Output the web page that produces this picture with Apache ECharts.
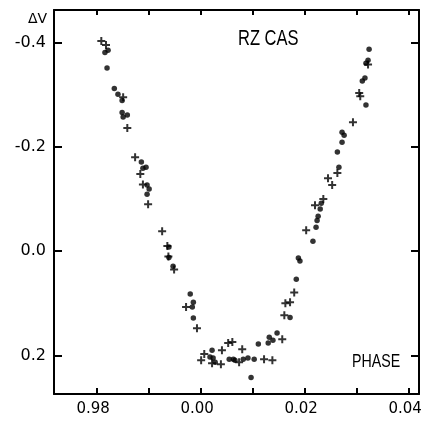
<!DOCTYPE html>
<html>
<head>
<meta charset="utf-8">
<script src="https://cdn.jsdelivr.net/npm/echarts@6/dist/echarts.min.js"></script>
<style>
html,body{margin:0;padding:0;background:#fff;}
#c{width:429px;height:426px;}
</style>
</head>
<body>
<div id="c"></div>
<script>
// Phase measured from primary minimum (negative = 0.98.. side), ΔV in mag
const dotPhase = [-0.0185,-0.0179,-0.0181,-0.0167,-0.0160,-0.0152,-0.0152,-0.0150,-0.0142,
  -0.0115,-0.0112,-0.0106,-0.0104,-0.0100,-0.0104,-0.0062,-0.0062,-0.0054,
  -0.0021,-0.0015,-0.0017,-0.0015,
  0.0021,0.0017,0.0023,0.0027,0.0054,0.0062,0.0065,0.0081,0.0090,0.0102,0.0096,0.0110,
  0.0131,0.0129,0.0138,0.0146,0.0171,0.0183,0.0187,0.0190,0.0215,0.0221,0.0223,0.0225,
  0.0229,0.0231,0.0262,0.0265,0.0271,0.0275,0.0271,0.0317,0.0310,0.0315,0.0317,0.0321,0.0323];
const dotDV = [-0.381,-0.385,-0.351,-0.312,-0.301,-0.289,-0.266,-0.257,-0.261,
  -0.171,-0.159,-0.161,-0.127,-0.119,-0.109,-0.008,0.012,0.029,
  0.082,0.098,0.107,0.128,
  0.190,0.203,0.205,0.213,0.207,0.207,0.209,0.207,0.205,0.207,0.242,0.178,
  0.165,0.176,0.171,0.157,0.127,0.054,0.013,0.019,-0.019,-0.046,-0.059,-0.067,
  -0.081,-0.092,-0.190,-0.161,-0.228,-0.222,-0.209,-0.280,-0.326,-0.332,-0.360,-0.366,-0.387];

const plusPhase = [-0.0192,-0.0183,-0.0150,-0.0142,-0.0127,-0.0117,-0.0112,-0.0102,
  -0.0075,-0.0065,-0.0063,-0.0052,-0.0029,-0.0008,
  0.0006,0.0000,0.0021,0.0038,0.0040,0.0052,0.0060,0.0073,0.0079,0.0121,0.0137,
  0.0156,0.0162,0.0171,0.0160,0.0179,0.0202,0.0219,0.0235,0.0244,0.0252,0.0262,
  0.0292,0.0304,0.0306,0.0321];
const plusDV = [-0.403,-0.395,-0.295,-0.236,-0.180,-0.148,-0.128,-0.090,
  -0.038,-0.010,0.010,0.035,0.107,0.148,
  0.197,0.209,0.215,0.217,0.190,0.176,0.174,0.213,0.188,0.207,0.209,
  0.169,0.100,0.098,0.123,0.079,-0.040,-0.088,-0.100,-0.140,-0.127,-0.150,
  -0.247,-0.303,-0.297,-0.358];

const xTicks = [-0.02,-0.01,0,0.01,0.02,0.03,0.04];
const xLabels = [-0.02,0,0.02,0.04];
const yTicks = [-0.4,-0.2,0,0.2];

const ink = '#000';
const plusPath = 'path://M3,0h2v3h3v2h-3v3h-2v-3h-3v-2h3z';

const chart = echarts.init(document.getElementById('c'), null, {renderer:'canvas'});
const axisBase = {
  type:'value', min:-0.0283, max:0.0419,
  axisLine:{show:true, onZero:false, lineStyle:{color:ink, width:2}},
  splitLine:{show:false}
};
chart.setOption({
  backgroundColor:'#fff',
  animation:false,
  grid:{left:54, top:10, right:10, bottom:32, containLabel:false},
  xAxis:[
    Object.assign({}, axisBase, {
      position:'bottom',
      axisTick:{show:true, inside:true, length:6, customValues:xTicks, lineStyle:{color:ink, width:2}},
      axisLabel:{show:true, customValues:xLabels, margin:8, color:ink,
        fontFamily:'DejaVu Sans', fontSize:15, padding:[0,8,0,0],
        formatter:v => (v < 0 ? 1 + v : v).toFixed(2)}
    }),
    Object.assign({}, axisBase, {
      position:'top',
      axisTick:{show:true, inside:true, length:5, customValues:xTicks, lineStyle:{color:ink, width:2}},
      axisLabel:{show:false}
    })
  ],
  yAxis:[
    {
      type:'value', inverse:true, min:-0.4623, max:0.2738, position:'left',
      axisLine:{show:true, onZero:false, lineStyle:{color:ink, width:2}},
      splitLine:{show:false},
      axisTick:{show:true, inside:true, length:8, customValues:yTicks, lineStyle:{color:ink, width:2}},
      axisLabel:{show:true, customValues:yTicks, margin:8, color:ink,
        fontFamily:'DejaVu Sans', fontSize:16,
        formatter:v => v.toFixed(1)}
    },
    {
      type:'value', inverse:true, min:-0.4623, max:0.2738, position:'right',
      axisLine:{show:true, onZero:false, lineStyle:{color:ink, width:2}},
      splitLine:{show:false},
      axisTick:{show:true, inside:true, length:8, customValues:yTicks, lineStyle:{color:ink, width:2}},
      axisLabel:{show:false}
    }
  ],
  graphic:[
    {type:'text', left:28, top:12, style:{text:'ΔV', fill:ink, font:'14px "DejaVu Sans"'}},
    {type:'text', left:238, top:28, scaleX:0.75,
      style:{text:'RZ CAS', fill:ink, font:'22px "Liberation Sans", sans-serif'}},
    {type:'text', left:352, top:353, scaleX:0.79,
      style:{text:'PHASE', fill:ink, font:'18px "Liberation Sans", sans-serif'}}
  ],
  series:[
    {type:'scatter', name:'dots', xAxisIndex:0, yAxisIndex:0,
      symbol:'circle', symbolSize:5.5, itemStyle:{color:ink},
      data:dotPhase.map((p,i)=>[p, dotDV[i]])},
    {type:'scatter', name:'plus', xAxisIndex:0, yAxisIndex:0,
      symbol:plusPath, symbolSize:8, itemStyle:{color:ink},
      data:plusPhase.map((p,i)=>[p, plusDV[i]])}
  ]
});
</script>
</body>
</html>
